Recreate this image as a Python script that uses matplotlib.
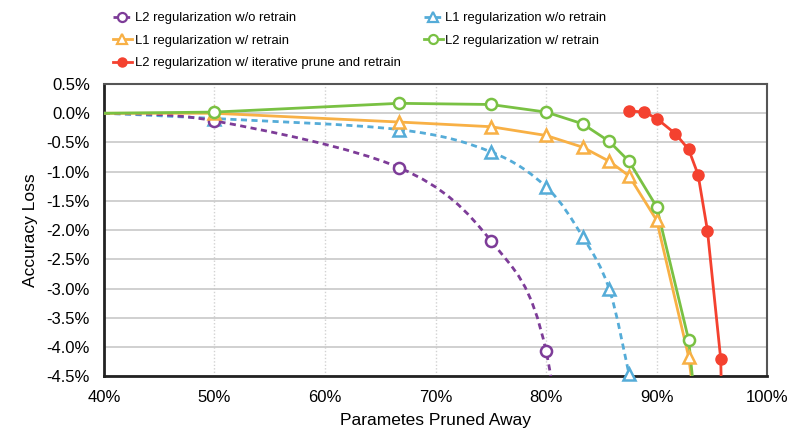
import matplotlib
matplotlib.use("Agg")
import matplotlib.pyplot as plt
import numpy as np
from matplotlib.lines import Line2D
from matplotlib.path import Path
from matplotlib.patches import PathPatch

plt.rcParams["font.family"] = ["Liberation Sans", "DejaVu Sans"]

# pruned ratio (%) and accuracy loss (%) per series; last points of some
# series lie below the visible range and are clipped, as in the source chart
l2_no_x = [40, 50, 66.7, 75, 80, 83.3]
l2_no_y = [0.0, -0.13, -0.93, -2.18, -4.07, -9.3]

l1_no_x = [40, 50, 66.7, 75, 80, 83.3, 85.7, 87.5]
l1_no_y = [0.0, -0.09, -0.28, -0.66, -1.26, -2.11, -3.0, -4.46]

l1_re_x = [40, 50, 66.7, 75, 80, 83.3, 85.7, 87.5, 90, 92.9, 93.75]
l1_re_y = [0.0, 0.0, -0.15, -0.23, -0.38, -0.58, -0.82, -1.07, -1.83, -4.17, -5.4]

l2_re_x = [40, 50, 66.7, 75, 80, 83.3, 85.7, 87.5, 90, 92.9, 93.75]
l2_re_y = [0.0, 0.02, 0.17, 0.15, 0.02, -0.18, -0.48, -0.82, -1.6, -3.88, -5.47]

l2_it_x = [87.5, 88.9, 90, 91.7, 92.9, 93.75, 94.6, 95.8, 96.0]
l2_it_y = [0.04, 0.02, -0.09, -0.35, -0.62, -1.05, -2.01, -4.21, -6.0]

x_ticks = [40, 50, 60, 70, 80, 90, 100]
y_ticks = [0.5, 0.0, -0.5, -1.0, -1.5, -2.0, -2.5, -3.0, -3.5, -4.0, -4.5]

PURPLE = "#7D3C98"
BLUE = "#55ACD8"
ORANGE = "#F8B045"
GREEN = "#79C143"
RED = "#F4412F"
YMIN, YMAX = -4.5, 0.5


def smooth_path(xs, ys):
    # Catmull-Rom style smooth curve expressed as cubic Bezier segments
    pts = np.column_stack([xs, ys]).astype(float)
    ext = np.vstack([pts[0], pts, pts[-1]])
    verts = [tuple(pts[0])]
    codes = [Path.MOVETO]
    for i in range(1, len(ext) - 2):
        p0, p1, p2, p3 = ext[i - 1], ext[i], ext[i + 1], ext[i + 2]
        c1 = p1 + (p2 - p0) / 6.0
        c2 = p2 - (p3 - p1) / 6.0
        verts += [tuple(c1), tuple(c2), tuple(p2)]
        codes += [Path.CURVE4] * 3
    return Path(verts, codes)


def visible(xs, ys, start):
    keep = [(x, y) for x, y in list(zip(xs, ys))[start:] if YMIN - 0.01 <= y <= YMAX]
    return [k[0] for k in keep], [k[1] for k in keep]


fig = plt.figure(figsize=(8.05, 4.4), dpi=100)
ax = fig.add_axes([0.129, 0.145, 0.824, 0.664])

lw = 2.0
dash = (0, (2.2, 1.6))
ms = 8
mew = 1.8

# dashed, smoothed series
for xs, ys, color, marker in [
    (l1_no_x, l1_no_y, BLUE, "^"),
    (l2_no_x, l2_no_y, PURPLE, "o"),
]:
    patch = PathPatch(smooth_path(xs, ys), facecolor="none", edgecolor=color,
                      lw=lw, linestyle=dash, zorder=3)
    ax.add_patch(patch)
    mx, my = visible(xs, ys, 1)
    ax.plot(mx, my, ls="none", marker=marker, ms=ms, mfc="white", mec=color,
            mew=mew, zorder=4, clip_on=False)

# solid series
for xs, ys, color, marker, start in [
    (l1_re_x, l1_re_y, ORANGE, "^", 1),
    (l2_re_x, l2_re_y, GREEN, "o", 1),
]:
    ax.plot(xs, ys, color=color, lw=lw, zorder=5)
    mx, my = visible(xs, ys, start)
    ax.plot(mx, my, ls="none", marker=marker, ms=ms, mfc="white", mec=color,
            mew=mew, zorder=6, clip_on=False)

ax.plot(l2_it_x, l2_it_y, color=RED, lw=lw, zorder=7)
mx, my = visible(l2_it_x, l2_it_y, 0)
ax.plot(mx, my, ls="none", marker="o", ms=ms, color=RED, zorder=8, clip_on=False)

ax.set_xlim(40, 100)
ax.set_ylim(YMIN, YMAX)
ax.set_xticks(x_ticks)
ax.set_xticklabels([f"{t}%" for t in x_ticks])
ax.set_yticks(y_ticks)
ax.set_yticklabels([f"{t:.1f}%" for t in y_ticks])
ax.tick_params(length=0, labelsize=12, pad=10)

ax.grid(axis="y", color="#c8c8c8", lw=1.2, ls="-", zorder=0)
ax.grid(axis="x", color="#d2d2d2", lw=1.0, ls=(0, (1, 1.5)), zorder=0)
ax.set_axisbelow(True)

for side in ["left", "bottom"]:
    ax.spines[side].set_color("#222222")
    ax.spines[side].set_linewidth(2.0)
for side in ["top", "right"]:
    ax.spines[side].set_color("#555555")
    ax.spines[side].set_linewidth(1.5)

ax.set_xlabel("Parametes Pruned Away", fontsize=12.5)
ax.set_ylabel("Accuracy Loss", fontsize=12.5)
ax.xaxis.set_label_coords(0.5, -0.127)
ax.yaxis.set_label_coords(-0.1, 0.5)

lms = 6.5
lmew = 1.6
handles = [
    Line2D([], [], color=PURPLE, lw=lw, ls=dash, marker="o", ms=lms,
           mfc="white", mec=PURPLE, mew=lmew),
    Line2D([], [], color=ORANGE, lw=lw, marker="^", ms=lms,
           mfc="white", mec=ORANGE, mew=lmew),
    Line2D([], [], color=RED, lw=lw, marker="o", ms=lms),
    Line2D([], [], color=BLUE, lw=lw, ls=dash, marker="^", ms=lms,
           mfc="white", mec=BLUE, mew=lmew),
    Line2D([], [], color=GREEN, lw=lw, marker="o", ms=lms,
           mfc="white", mec=GREEN, mew=lmew),
]
labels = [
    "L2 regularization w/o retrain",
    "L1 regularization w/ retrain",
    "L2 regularization w/ iterative prune and retrain",
    "L1 regularization w/o retrain",
    "L2 regularization w/ retrain",
]
fig.legend(handles, labels, loc="upper left", bbox_to_anchor=(113 / 805, 1 - 12 / 440),
           ncol=2, frameon=False, fontsize=9.4, borderpad=0, borderaxespad=0,
           handlelength=1.45, handletextpad=0.2, columnspacing=1.8,
           labelspacing=0.8)

fig.savefig("out.png", dpi=100)
